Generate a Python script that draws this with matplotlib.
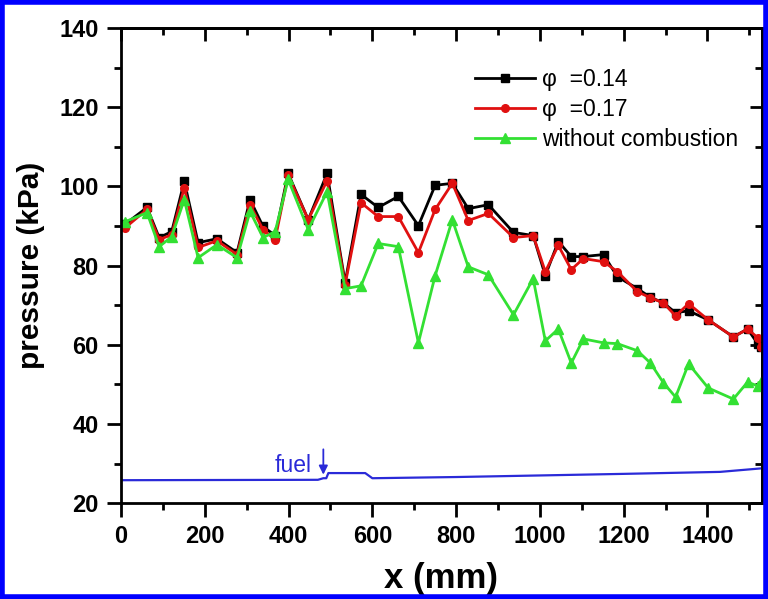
import matplotlib

matplotlib.use("Agg")
import matplotlib.pyplot as plt
from matplotlib.patches import Rectangle
from matplotlib.ticker import MultipleLocator

plt.rcParams["font.family"] = ["Liberation Sans", "DejaVu Sans"]

# sensor positions along the duct (mm)
x_mm = [10, 62, 91, 121, 151, 184, 229, 277, 308, 339, 368, 399, 447, 492, 535,
        573, 614, 662, 710, 750, 791, 829, 877, 937, 984, 1013, 1044, 1075, 1104,
        1152, 1185, 1233, 1264, 1295, 1324, 1355, 1402, 1462, 1496, 1520, 1528]

p_phi014 = [90.5, 94.7, 87.1, 88.6, 101.3, 85.8, 86.8, 83.3, 96.7, 89.9, 87.6,
            103.3, 91.6, 103.3, 75.7, 98.0, 94.7, 97.5, 90.1, 100.3, 100.8, 94.4,
            95.4, 88.4, 87.6, 77.5, 86.1, 82.3, 82.3, 82.8, 77.2, 74.2, 72.0, 70.6,
            68.1, 68.6, 66.3, 62.0, 64.0, 60.3, 59.5]

p_phi017 = [89.6, 94.2, 86.6, 87.8, 99.7, 84.6, 86.3, 82.8, 95.4, 89.1, 86.6,
            102.8, 91.6, 101.5, 75.2, 95.9, 92.4, 92.4, 83.3, 94.2, 100.8, 91.4,
            93.2, 87.1, 87.6, 78.5, 85.1, 79.0, 81.8, 81.0, 78.5, 73.4, 71.9, 70.6,
            67.3, 70.4, 66.3, 62.0, 64.0, 61.8, 59.5]

p_cold = [91.1, 93.4, 84.8, 87.3, 96.7, 82.0, 85.3, 82.0, 93.7, 87.1, 88.6,
          101.8, 89.1, 98.7, 74.2, 74.9, 85.6, 84.8, 60.5, 77.5, 91.6, 79.7,
          77.7, 67.6, 76.7, 61.0, 64.0, 55.4, 61.5, 60.5, 60.3, 58.5, 55.4, 50.4,
          46.8, 55.2, 49.1, 46.3, 50.6, 49.6, 50.6]

# duct profile sketch drawn under the data
duct_x = [0, 470, 483, 490, 495, 583, 600, 800, 1000, 1200, 1430, 1530]
duct_p = [25.8, 25.9, 26.3, 26.3, 27.6, 27.6, 26.3, 26.6, 27.0, 27.4, 27.9, 28.8]

fig = plt.figure(figsize=(7.68, 5.99), dpi=100)
ax = fig.add_axes([0.1576, 0.160, 0.8344, 0.793])

ax.plot(duct_x, duct_p, color="#2a2ad8", lw=1.6)
ax.plot(x_mm, p_phi014, color="black", lw=2, marker="s", ms=5.5, label="\u03c6  =0.14")
ax.plot(x_mm, p_phi017, color="#e01010", lw=2, marker="o", ms=5.5, label="\u03c6  =0.17")
ax.plot(x_mm, p_cold, color="#33e033", lw=2, marker="^", ms=6.5, label="without combustion")

ax.annotate("", xy=(483, 26.5), xytext=(483, 34.3),
            arrowprops=dict(arrowstyle="-|>", color="#2a2ad8", lw=1.3, mutation_scale=13))
ax.text(455, 29.6, "fuel", color="#2a2ad8", fontsize=16.5, ha="right", va="center")

ax.set_xlim(0, 1530)
ax.set_ylim(20, 140)
ax.xaxis.set_major_locator(MultipleLocator(200))
ax.xaxis.set_minor_locator(MultipleLocator(100))
ax.yaxis.set_major_locator(MultipleLocator(20))
ax.yaxis.set_minor_locator(MultipleLocator(10))
ax.tick_params(which="major", direction="out", length=10, width=2, labelsize=17, pad=6)
ax.tick_params(which="minor", direction="out", length=5, width=2)
for lab in ax.get_xticklabels() + ax.get_yticklabels():
    lab.set_fontweight("bold")
for sp in ax.spines.values():
    sp.set_linewidth(2)

top = ax.secondary_xaxis("top")
top.xaxis.set_major_locator(MultipleLocator(200))
top.xaxis.set_minor_locator(MultipleLocator(100))
top.tick_params(which="major", direction="in", length=9, width=2, labeltop=False)
top.tick_params(which="minor", direction="in", length=5, width=2)
top.spines["top"].set_linewidth(2)
right = ax.secondary_yaxis("right")
right.yaxis.set_major_locator(MultipleLocator(20))
right.yaxis.set_minor_locator(MultipleLocator(10))
right.tick_params(which="major", direction="in", length=9, width=2, labelright=False)
right.tick_params(which="minor", direction="in", length=5, width=2)
right.spines["right"].set_linewidth(2)

ax.set_xlabel("x (mm)", fontsize=25, fontweight="bold", labelpad=10)
ax.set_ylabel("pressure (kPa)", fontsize=21.5, fontweight="bold", labelpad=10)

leg = ax.legend(loc="upper right", bbox_to_anchor=(0.995, 0.96), frameon=False,
                fontsize=16.5, handlelength=2.6, handletextpad=0.3, labelspacing=0.3)

fig.patches.append(Rectangle((0.003, 0.003), 0.994, 0.994, transform=fig.transFigure,
                             fill=False, edgecolor="#0000ff", lw=4))

fig.savefig("out.png", dpi=100)
